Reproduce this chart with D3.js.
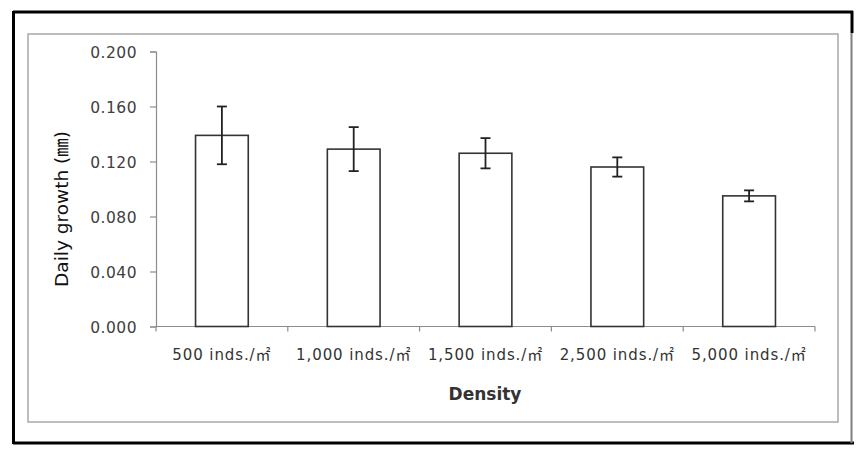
<!DOCTYPE html>
<html><head><meta charset="utf-8">
<script src="https://cdn.jsdelivr.net/npm/d3@7"></script>
<style>
body{margin:0;background:#fff;}
svg{display:block;}
</style></head>
<body>
<svg id="chart" width="866" height="456"></svg>
<script>
const categories = ["500 inds./㎡","1,000 inds./㎡","1,500 inds./㎡","2,500 inds./㎡","5,000 inds./㎡"];
const means = [0.139, 0.129, 0.126, 0.116, 0.095];
const errors = [0.021, 0.016, 0.011, 0.007, 0.004];
const yTicks = [0, 0.04, 0.08, 0.12, 0.16, 0.2];
const yTitle = "Daily growth (㎜)";
const xTitle = "Density";

const svg = d3.select("#chart");
const fontMain = "'DejaVu Sans', 'Noto Sans CJK KR', sans-serif";

// outer frame
svg.append("line").attr("x1",13).attr("x2",853).attr("y1",12).attr("y2",12).attr("stroke","#000").attr("stroke-width",3);
svg.append("line").attr("x1",13.5).attr("x2",13.5).attr("y1",11).attr("y2",444).attr("stroke","#000").attr("stroke-width",3);
svg.append("line").attr("x1",13).attr("x2",854).attr("y1",443).attr("y2",443).attr("stroke","#000").attr("stroke-width",3);
svg.append("line").attr("x1",852).attr("x2",852).attr("y1",11).attr("y2",33).attr("stroke","#000").attr("stroke-width",3);
svg.append("line").attr("x1",851.5).attr("x2",851.5).attr("y1",33).attr("y2",443).attr("stroke","#808080").attr("stroke-width",2);

// inner chart area border
svg.append("rect").attr("x",28).attr("y",34).attr("width",810).attr("height",388)
  .attr("fill","none").attr("stroke","#a8a8a8").attr("stroke-width",1.5);

const x = d3.scaleBand().domain(categories).range([156,815]).paddingInner(0).paddingOuter(0);
const y = d3.scaleLinear().domain([0,0.2]).range([326.5,51.5]);

// y axis
const yAxis = d3.axisLeft(y).tickValues(yTicks).tickFormat(d3.format(".3f")).tickSize(6).tickPadding(13);
const gy = svg.append("g").attr("transform","translate(156,0)").call(yAxis);
gy.select(".domain").attr("stroke","#8c8c8c").attr("stroke-width",1.2);
gy.selectAll(".tick line").attr("stroke","#8c8c8c").attr("stroke-width",1.2);
gy.selectAll(".tick text").attr("font-family",fontMain).attr("font-size",15.5).attr("fill","#404040")
  .attr("letter-spacing",0.5).attr("dy","0.36em");

// x axis
const xAxis = d3.axisBottom(x).tickSize(0).tickPadding(23);
const gx = svg.append("g").attr("transform","translate(0,326.5)").call(xAxis);
gx.select(".domain").attr("stroke","#8c8c8c").attr("stroke-width",1.2).attr("d","M156,0H815");
gx.selectAll(".tick text").attr("font-family",fontMain).attr("font-size",15).attr("fill","#333")
  .attr("letter-spacing",0.9);
// category boundary ticks
const bounds = categories.map(c => x(c)).concat([x(categories[categories.length-1]) + x.bandwidth()]);
gx.selectAll(".bound").data(bounds).enter().append("line")
  .attr("x1",d=>d).attr("x2",d=>d).attr("y1",0).attr("y2",5)
  .attr("stroke","#8c8c8c").attr("stroke-width",1.2);

// bars
const barW = x.bandwidth()*0.4;
svg.selectAll(".bar").data(means).enter().append("rect")
  .attr("x",(d,i)=> x(categories[i]) + x.bandwidth()/2 - barW/2)
  .attr("y",d=>y(d))
  .attr("width",barW)
  .attr("height",d=>y(0)-y(d))
  .attr("fill","#fff").attr("stroke","#333").attr("stroke-width",1.6);

// error bars
const cx = i => x(categories[i]) + x.bandwidth()/2;
const eg = svg.selectAll(".err").data(means).enter().append("g");
eg.append("line").attr("x1",(d,i)=>cx(i)).attr("x2",(d,i)=>cx(i))
  .attr("y1",(d,i)=>y(d+errors[i])).attr("y2",(d,i)=>y(d-errors[i]))
  .attr("stroke","#222").attr("stroke-width",1.8);
eg.append("line").attr("x1",(d,i)=>cx(i)-5).attr("x2",(d,i)=>cx(i)+5)
  .attr("y1",(d,i)=>y(d+errors[i])).attr("y2",(d,i)=>y(d+errors[i]))
  .attr("stroke","#222").attr("stroke-width",1.8);
eg.append("line").attr("x1",(d,i)=>cx(i)-5).attr("x2",(d,i)=>cx(i)+5)
  .attr("y1",(d,i)=>y(d-errors[i])).attr("y2",(d,i)=>y(d-errors[i]))
  .attr("stroke","#222").attr("stroke-width",1.8);

// titles
svg.append("text").attr("transform","translate(68,209) rotate(-90)")
  .attr("text-anchor","middle").attr("font-family",fontMain).attr("font-size",18.5).attr("fill","#111")
  .text(yTitle);
svg.append("text").attr("x",485).attr("y",400).attr("text-anchor","middle")
  .attr("font-family",fontMain).attr("font-size",17).attr("font-weight","bold").attr("fill","#333")
  .text(xTitle);
</script>
</body></html>
